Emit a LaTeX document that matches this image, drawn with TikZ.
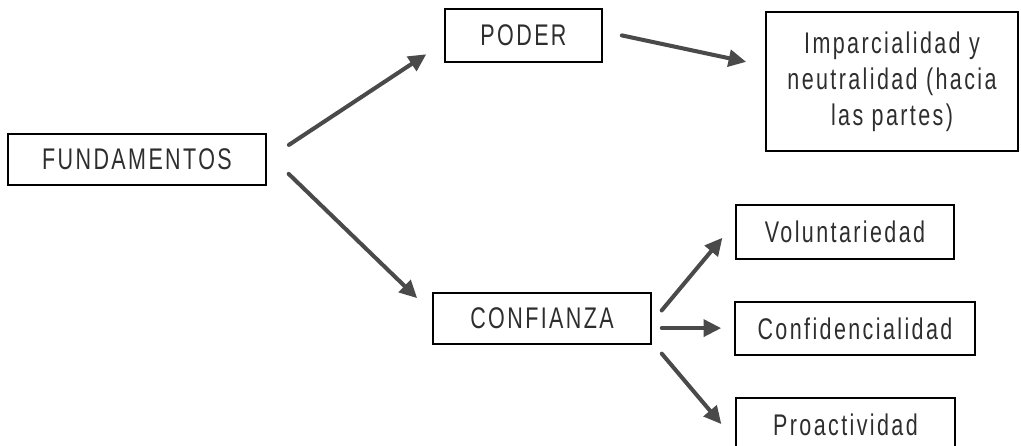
\documentclass[tikz,border=0pt]{standalone}
\usepackage{fontspec}
\usepackage{tikz}
\usetikzlibrary{arrows.meta}
\newfontfamily\boxfont[FakeStretch=0.72,LetterSpace=8]{Liberation Sans}
\definecolor{arrowgray}{HTML}{4A4A4A}
\definecolor{textgray}{HTML}{2E2E2E}

\begin{document}
\begin{tikzpicture}[x=0.02cm,y=-0.02cm,
	box/.style={draw=black,line width=0.9pt,inner sep=0pt,align=center,
		text=textgray,font=\boxfont\fontsize{17}{20.4}\selectfont},
	arr/.style={draw=arrowgray,line width=2.3pt,line cap=round,
		-{Triangle[length=10pt,width=9.5pt]}}]
\useasboundingbox (0,0) rectangle (1021,446);
\clip (0,0) rectangle (1021,446);
% boxes
\node[box,minimum width=5.16cm,minimum height=1.02cm] (fund) at (137,159.5) {FUNDAMENTOS};
\node[box,minimum width=3.14cm,minimum height=1.06cm] (poder) at (523.5,35.5) {PODER};
\node[box,minimum width=5.04cm,minimum height=2.78cm] (imparc) at (892,81.5)
	{Imparcialidad y\\neutralidad (hacia\\las partes)};
\node[box,minimum width=4.36cm,minimum height=1.02cm] (conf) at (542,318.5) {CONFIANZA};
\node[box,minimum width=4.36cm,minimum height=1.08cm] (volunt) at (845,232) {Voluntariedad};
\node[box,minimum width=4.8cm,minimum height=1.06cm] (confid) at (855,328.5) {Confidencialidad};
\node[box,minimum width=4.38cm,minimum height=1.08cm] (proact) at (845.5,425) {Proactividad};
% arrows
\draw[arr,shorten <=0.53cm,shorten >=0.43cm] (fund.east) -- (poder.185);
\draw[arr,shorten <=0.61cm,shorten >=0.42cm] (fund.3) -- (conf.177);
\draw[arr,shorten <=0.39cm,shorten >=0.39cm] (poder.3) -- (imparc.173.5);
\draw[arr,shorten <=0.31cm,shorten >=0.4cm] (conf.-2) -- (volunt.175);
\draw[arr,shorten <=0.2cm,shorten >=0.26cm] (conf.-5) -- (conf.-5 -| confid.west);
\draw[arr,shorten <=0.31cm,shorten >=0.43cm] (conf.-12) -- (proact.188.6);
\end{tikzpicture}
\end{document}
